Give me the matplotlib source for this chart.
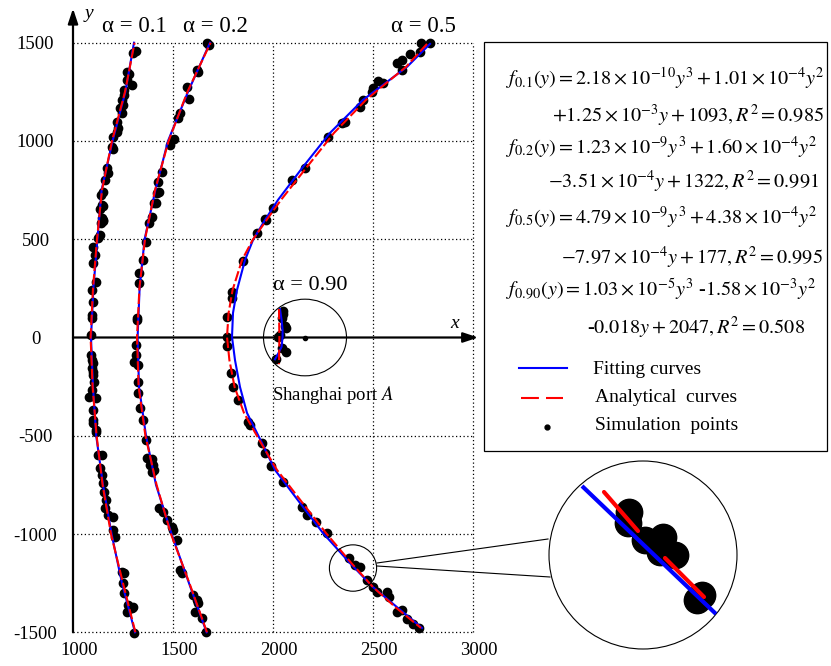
import matplotlib
matplotlib.use("Agg")
import matplotlib.pyplot as plt
from matplotlib.patches import Ellipse, Rectangle, Circle
from matplotlib.transforms import ScaledTranslation

plt.rcParams['font.family'] = ['Liberation Serif', 'DejaVu Serif']
plt.rcParams['mathtext.fontset'] = 'stix'
plt.rcParams['axes.unicode_minus'] = False

# ---- data ----
# fitting curves (blue), x as a function of y
y_fit = [-1500, -1250, -1000, -750, -500, -250, 0, 250, 500, 750, 1000, 1250, 1500]
x_fit_01 = [1310, 1245, 1193, 1150, 1116, 1100, 1090, 1102, 1122, 1143, 1198, 1262, 1305]
x_fit_02 = [1668, 1580, 1493, 1415, 1365, 1330, 1323, 1333, 1358, 1412, 1475, 1575, 1685]
# analytical curves (red dashed)
x_ana_01 = [1312, 1250, 1190, 1148, 1118, 1098, 1088, 1100, 1120, 1145, 1195, 1260, 1308]
x_ana_02 = [1670, 1582, 1490, 1418, 1362, 1328, 1320, 1332, 1360, 1410, 1478, 1572, 1688]

y_05 = [1494, 1377, 1209, 1041, 868, 700, 598, 496, 394, 242, 125, 3, -115, -252,
        -384, -537, -674, -842, -995, -1148, -1270, -1372, -1478]
x_fit_05 = [2785, 2670, 2450, 2285, 2150, 2025, 1960, 1900, 1860, 1820, 1800, 1795, 1810,
            1835, 1870, 1945, 2010, 2135, 2250, 2385, 2500, 2620, 2745]
x_ana_05 = [2770, 2665, 2465, 2305, 2170, 2040, 1968, 1898, 1845, 1798, 1778, 1770, 1782,
            1808, 1855, 1940, 2020, 2148, 2265, 2392, 2500, 2612, 2740]

y_fit_09 = [145, 89, 38, 4, -47, -80, -111]
x_fit_09 = [2035, 2043, 2048, 2048, 2043, 2027, 2010]
y_ana_09 = [145, 60, 0, -60, -136]
x_ana_09 = [2030, 2031, 2032, 2031, 2030]

# simulation points
sim_x_01 = [1315, 1300, 1270, 1280, 1270, 1295, 1255, 1255, 1245, 1250, 1235, 1245, 1220, 1225,
            1220, 1200, 1195, 1200, 1170, 1175, 1160, 1140, 1150, 1145, 1135, 1150,
            1152, 1143, 1152, 1138, 1135, 1127, 1102, 1110, 1102, 1115, 1093, 1098, 1095, 1095,
            1090, 1090, 1093, 1098, 1093, 1102, 1102, 1105, 1093, 1082, 1115, 1098, 1098, 1115,
            1098, 1115, 1127, 1143, 1135, 1143, 1152, 1157, 1165, 1160, 1177, 1202, 1198, 1210,
            1243, 1255, 1248, 1255, 1277, 1293, 1268, 1302, 1307]
sim_y_01 = [1458, 1448, 1351, 1341, 1310, 1285, 1260, 1234, 1209, 1183, 1168, 1142, 1097, 1066,
            1046, 1020, 969, 959, 863, 837, 801, 725, 740, 674, 654, 598,
            669, 607, 594, 581, 522, 505, 462, 420, 381, 284, 242, 182, 115, 98,
            13, -89, -115, -131, -157, -174, -191, -225, -267, -301, -309, -369, -420, -471,
            -437, -479, -598, -598, -666, -700, -742, -785, -827, -869, -903, -912, -980, -1014,
            -1192, -1200, -1251, -1302, -1361, -1378, -1395, -1373, -1505]

sim_x_02 = [1669, 1682, 1619, 1627, 1572, 1582, 1535, 1527, 1505, 1485, 1444, 1427, 1432, 1419,
            1405, 1394, 1413, 1382, 1365, 1348, 1332, 1330, 1322, 1318,
            1315, 1315, 1305, 1327, 1327, 1323, 1335, 1352, 1365,
            1368, 1393, 1385, 1402, 1405, 1393, 1432, 1452, 1468, 1493, 1502, 1518, 1535, 1543,
            1602, 1618, 1627, 1610, 1643, 1665]
sim_y_02 = [1497, 1489, 1361, 1353, 1276, 1213, 1141, 1115, 1009, 980, 844, 793, 742, 737,
            683, 615, 686, 581, 488, 394, 330, 279, 98, 89,
            -38, -89, -123, -140, -225, -284, -360, -420, -522,
            -615, -620, -649, -649, -674, -683, -869, -887, -929, -963, -980, -1031, -1183, -1200,
            -1310, -1336, -1353, -1395, -1429, -1497]

sim_x_05 = [2785, 2740, 2735, 2685, 2643, 2618, 2643, 2527, 2552, 2502, 2493, 2452, 2435, 2360,
            2343, 2277, 2160, 2093, 2002, 1960, 1965, 1918, 1852, 1793, 1793, 1768, 1768, 1772,
            1788, 1802, 1827, 1877, 1885, 1943, 1960, 1988, 2052, 2143, 2168, 2215, 2268, 2382,
            2410, 2435, 2472, 2498, 2518, 2568, 2582, 2618, 2643, 2668, 2698, 2732]
sim_y_05 = [1497, 1497, 1451, 1443, 1412, 1395, 1361, 1307, 1293, 1268, 1251, 1209, 1172, 1099,
            1090, 1022, 861, 802, 657, 601, 598, 530, 391, 233, 199, 106, 1, -43,
            -179, -250, -318, -428, -445, -538, -590, -654, -734, -864, -903, -937, -997, -1124,
            -1158, -1166, -1234, -1268, -1294, -1294, -1319, -1395, -1387, -1434, -1458, -1480]

sim_x_09 = [2048, 2052, 2043, 2060, 2065, 2035, 2027, 2043, 2065, 2015]
sim_y_09 = [136, 118, 98, 59, 47, 13, 1, -52, -72, -111]

port_x, port_y = 2160, 0
zoom_x, zoom_y = 2400, -1173

# magnified inset (local units, y downward)
inset_fit_x = [34, 168]
inset_fit_y = [26, 154]
inset_ana1_x = [56, 90]
inset_ana1_y = [32, 71]
inset_ana2_x = [117, 156]
inset_ana2_y = [98, 137]
inset_dot_x = [81.3, 80.3, 97, 115.3, 127, 112, 153.7, 148.7]
inset_dot_y = [51.7, 63.3, 80, 76.7, 95, 91.7, 135, 140]

x_ticks = [1000, 1500, 2000, 2500, 3000]
y_ticks = [-1500, -1000, -500, 0, 500, 1000, 1500]

W, H = 831, 666
fig = plt.figure(figsize=(W / 100, H / 100), dpi=100)

def box(l, t, r, b):
    return [l / W, 1 - b / H, (r - l) / W, (b - t) / H]

ax = fig.add_axes(box(73, 42.7, 473, 632.3))
ax.set_xlim(1000, 3000)
ax.set_ylim(-1500, 1500)
for s in ax.spines.values():
    s.set_visible(False)
ax.set_xticks(x_ticks)
ax.set_yticks(y_ticks)
ax.set_xticklabels([str(v) for v in x_ticks], fontsize=13.5)
ax.set_yticklabels([str(v) for v in y_ticks], fontsize=13.5, ha='center')
ax.tick_params(axis='x', length=0, pad=7)
ax.tick_params(axis='y', length=0, pad=27)
for lab in ax.get_xticklabels():
    lab.set_transform(lab.get_transform() + ScaledTranslation(6 / 100, 0, fig.dpi_scale_trans))

# dotted grid
for gx in x_ticks[1:]:
    ax.axvline(gx, color='k', lw=0.9, ls=(0, (1, 2)), zorder=1, clip_on=False)
for gy in y_ticks:
    if gy != 0:
        ax.axhline(gy, color='k', lw=0.9, ls=(0, (1, 2)), zorder=1, clip_on=False)

# axes arrows
ax.annotate('', xy=(0, 1.058), xytext=(0, 0), xycoords='axes fraction',
            annotation_clip=False,
            arrowprops=dict(arrowstyle='-|>,head_length=0.9,head_width=0.3', lw=1.6,
                            color='k', shrinkA=0, shrinkB=0, mutation_scale=10))
ax.annotate('', xy=(1.013, 0.5), xytext=(0, 0.5), xycoords='axes fraction',
            annotation_clip=False,
            arrowprops=dict(arrowstyle='-|>,head_length=0.9,head_width=0.3', lw=1.6,
                            color='k', shrinkA=0, shrinkB=0, mutation_scale=10))

# simulation points
for sx, sy in [(sim_x_01, sim_y_01), (sim_x_02, sim_y_02), (sim_x_05, sim_y_05), (sim_x_09, sim_y_09)]:
    ax.plot(sx, sy, 'o', color='k', ms=6, mec='k', zorder=3, clip_on=False)

# fitting curves
for fx, fy in [(x_fit_01, y_fit), (x_fit_02, y_fit), (x_fit_05, y_05), (x_fit_09, y_fit_09)]:
    ax.plot(fx, fy, color='#0000ff', lw=1.5, zorder=4, clip_on=False)

# analytical curves
for ax_, ay_ in [(x_ana_01, y_fit), (x_ana_02, y_fit), (x_ana_05, y_05), (x_ana_09, y_ana_09)]:
    ax.plot(ax_, ay_, color='#ff0000', lw=1.5, dashes=(5, 1.5), zorder=5, clip_on=False)

# port and circles
ax.plot([port_x], [port_y], 'o', color='k', ms=3, zorder=6)
ax.add_patch(Ellipse((port_x, port_y), 415, 390, fill=False, ec='k', lw=0.8, zorder=6))
ax.add_patch(Ellipse((zoom_x, zoom_y), 236, 236, fill=False, ec='k', lw=0.8, zorder=6))

ax.text(2185, 265, 'α = 0.90', fontsize=16, ha='center', va='center')
ax.text(2300, -295, r'Shanghai port $A$', fontsize=13.5, ha='center', va='center')

# overlay in pixel coordinates
ov = fig.add_axes([0, 0, 1, 1], zorder=10)
ov.set_xlim(0, W)
ov.set_ylim(H, 0)
ov.axis('off')
ov.patch.set_alpha(0)

ov.text(89, 13, 'y', fontsize=14, style='italic', ha='center', va='center')
ov.text(455, 323, 'x', fontsize=14, style='italic', ha='center', va='center')
for txt, px in [('α = 0.1', 134), ('α = 0.2', 215), ('α = 0.5', 423)]:
    ov.text(px, 26, txt, fontsize=16.5, ha='center', va='center')

# equation / legend box
ov.add_patch(Rectangle((484, 42), 343, 409, fill=False, ec='k', lw=0.9))
eqs = [
    (506, 78, 'left', r'$f_{0.1}(y)=2.18\times10^{-10}y^3+1.01\times10^{-4}y^2$'),
    (824, 116, 'right', r'$+1.25\times10^{-3}y+1093, R^2=0.985$'),
    (506, 148, 'left', r'$f_{0.2}(y)=1.23\times10^{-9}y^3+1.60\times10^{-4}y^2$'),
    (819, 182, 'right', r'$-3.51\times10^{-4}y+1322, R^2=0.991$'),
    (506, 218, 'left', r'$f_{0.5}(y)=4.79\times10^{-9}y^3+4.38\times10^{-4}y^2$'),
    (823, 258, 'right', r'$-7.97\times10^{-4}y+177, R^2=0.995$'),
    (506, 290, 'left', r'$f_{0.90}(y)=1.03\times10^{-5}y^3$ -$1.58\times10^{-3}y^2$'),
    (805, 328, 'right', r'-$0.018y+2047, R^2=0.508$'),
]
for ex, ey, eh, et in eqs:
    ov.text(ex, ey, et, fontsize=14.6, ha=eh, va='center')

ov.plot([519, 567], [368, 368], color='#0000ff', lw=1.5)
ov.plot([521, 563], [398, 398], color='#ff0000', lw=1.5, dashes=(8.6, 3.4))
ov.plot([547], [427], 'o', color='k', ms=3.5)
ov.text(593, 369, 'Fitting curves', fontsize=14, va='center')
ov.text(595, 398, 'Analytical  curves', fontsize=14, va='center')
ov.text(595, 426, 'Simulation  points', fontsize=14, va='center')

# connector lines
ov.plot([377, 548], [563, 539], color='k', lw=0.8)
ov.plot([377, 550], [566, 577], color='k', lw=0.8)

# magnified inset
ins = fig.add_axes(box(548, 460, 738, 650), zorder=11)
ins.set_xlim(0, 190)
ins.set_ylim(190, 0)
ins.axis('off')
ins.patch.set_alpha(0)
ring = Circle((95, 95), 94, fill=True, fc='white', ec='k', lw=0.8, zorder=1)
ins.add_patch(ring)
ins.plot(inset_dot_x, inset_dot_y, 'o', color='k', ms=19, zorder=2)
bl, = ins.plot(inset_fit_x, inset_fit_y, color='#0000ff', lw=3, zorder=3, solid_capstyle='butt')
ins.plot(inset_ana1_x, inset_ana1_y, color='#ff0000', lw=3, zorder=4, solid_capstyle='round')
ins.plot(inset_ana2_x, inset_ana2_y, color='#ff0000', lw=3, zorder=4, solid_capstyle='round')
bl.set_clip_path(ring)

fig.savefig('out.png', dpi=100)
